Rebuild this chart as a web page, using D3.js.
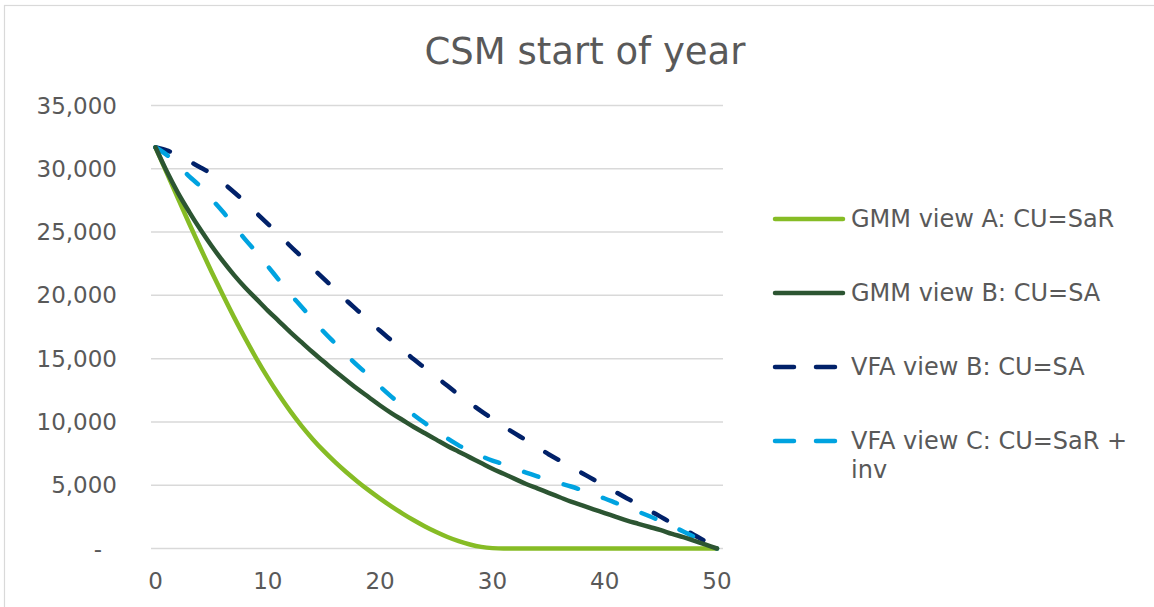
<!DOCTYPE html>
<html>
<head>
<meta charset="utf-8">
<script src="https://cdn.jsdelivr.net/npm/d3@7"></script>
<style>
  html, body { margin: 0; padding: 0; background: #ffffff; }
  svg { display: block; font-family: "DejaVu Sans", Verdana, sans-serif; }
</style>
</head>
<body>
<script>
// Policy year (x axis)
const years = [0,1,2,3,4,5,6,7,8,9,10,11,12,13,14,15,16,17,18,19,20,
  21,22,23,24,25,26,27,28,29,30,31,32,33,34,35,36,37,38,39,40,
  41,42,43,44,45,46,47,48,49,50];

// CSM at start of year, per measurement view
const gmmViewA = [31700,29680,27660,25680,23740,21850,20020,18260,16580,14990,13500,
  12120,10850,9690,8640,7690,6820,6020,5280,4590,3940,
  3330,2760,2230,1740,1300,910,580,320,130,30,
  0,0,0,0,0,0,0,0,0,0,
  0,0,0,0,0,0,0,0,0,0];

const gmmViewB = [31700,29800,28100,26600,25200,23900,22700,21600,20600,19700,18800,
  17950,17100,16300,15500,14750,14000,13300,12600,11950,11300,
  10700,10150,9600,9100,8600,8100,7650,7200,6750,6300,
  5900,5500,5100,4750,4400,4050,3700,3400,3100,2800,
  2500,2200,1950,1700,1450,1150,900,600,300,0];

const vfaViewB = [31700,31450,31100,30600,30100,29600,28900,28150,27350,26500,25650,
  24800,23900,23050,22150,21300,20450,19600,18800,18000,17200,
  16450,15700,14950,14250,13550,12850,12150,11500,10850,10250,
  9650,9100,8550,8000,7450,6950,6450,5950,5450,4950,
  4450,3950,3500,3000,2500,2000,1550,1050,550,0];

const vfaViewC = [31700,31100,30300,29400,28600,27600,26600,25500,24400,23400,22300,
  21200,20100,19100,18100,17100,16200,15300,14450,13650,12800,
  12000,11250,10550,9900,9300,8700,8150,7700,7300,6950,
  6650,6300,6000,5700,5400,5150,4900,4600,4250,3950,
  3600,3250,2900,2550,2150,1750,1350,900,400,0];

const seriesNames = ["GMM view A: CU=SaR", "GMM view B: CU=SA", "VFA view B: CU=SA", "VFA view C: CU=SaR + inv"];
const seriesColors = ["#86bc25", "#2c5532", "#012169", "#00a3e0"];
const seriesDashed = [false, false, true, true];

const yTicks = [0, 5000, 10000, 15000, 20000, 25000, 30000, 35000];
const xTicks = [0, 10, 20, 30, 40, 50];
const chartTitle = "CSM start of year";

const W = 1154, H = 607;
const svg = d3.select("body").append("svg").attr("width", W).attr("height", H);

svg.append("rect").attr("width", W).attr("height", H).attr("fill", "#ffffff");
// chart area outline
svg.append("rect").attr("x", 4.5).attr("y", 5.5).attr("width", 1300).attr("height", 700)
  .attr("fill", "none").attr("stroke", "#d9d9d9").attr("stroke-width", 1.2);

const x = d3.scaleLinear().domain([0, 50]).range([155.5, 717]);
const y = d3.scaleLinear().domain([0, 35000]).range([548.5, 105.5]);

// title
svg.append("text").attr("x", 585).attr("y", 64).attr("text-anchor", "middle")
  .attr("font-size", 37).attr("fill", "#595959").text(chartTitle);

// gridlines
svg.append("g").selectAll("line").data(yTicks).join("line")
  .attr("x1", x(0) - 4.5).attr("x2", x(50) + 6)
  .attr("y1", d => y(d)).attr("y2", d => y(d))
  .attr("stroke", "#d9d9d9").attr("stroke-width", 1.5);

// y axis labels
const fmt = d3.format(",");
svg.append("g").selectAll("text").data(yTicks).join("text")
  .attr("x", d => d === 0 ? 102 : 117)
  .attr("y", d => y(d)).attr("dy", "0.35em")
  .attr("text-anchor", "end").attr("font-size", 23).attr("fill", "#595959")
  .text(d => d === 0 ? "-" : fmt(d));

// x axis labels
svg.append("g").selectAll("text").data(xTicks).join("text")
  .attr("x", d => x(d)).attr("y", 581).attr("dy", "0.35em")
  .attr("text-anchor", "middle").attr("font-size", 23).attr("fill", "#595959")
  .text(d => d);

// series lines
const allSeries = [gmmViewA, gmmViewB, vfaViewB, vfaViewC];
const line = d3.line().x((d, i) => x(years[i])).y(d => y(d)).curve(d3.curveMonotoneX);
const dash = "15,26.5";

const drawOrder = [0, 2, 3, 1];
drawOrder.forEach(k => {
  svg.append("path").datum(allSeries[k])
    .attr("d", line)
    .attr("fill", "none")
    .attr("stroke", seriesColors[k])
    .attr("stroke-width", 4.5)
    .attr("stroke-linecap", "round")
    .attr("stroke-linejoin", "round")
    .attr("stroke-dasharray", seriesDashed[k] ? dash : null);
});

// legend
const legendY = [219, 293, 367, 441];
const legend = svg.append("g");
seriesNames.forEach((name, k) => {
  const ly = legendY[k];
  legend.append("line")
    .attr("x1", 775).attr("x2", 843).attr("y1", ly).attr("y2", ly)
    .attr("stroke", seriesColors[k]).attr("stroke-width", 4.5)
    .attr("stroke-linecap", "round")
    .attr("stroke-dasharray", seriesDashed[k] ? "19,22" : null);
  const t = legend.append("text").attr("x", 851).attr("y", ly).attr("dy", "0.35em")
    .attr("font-size", 24).attr("fill", "#595959");
  if (k === 3) {
    t.text("VFA view C: CU=SaR +");
    legend.append("text").attr("x", 851).attr("y", ly + 29).attr("dy", "0.35em")
      .attr("font-size", 24).attr("fill", "#595959").text("inv");
  } else {
    t.text(name);
  }
});
</script>
</body>
</html>
